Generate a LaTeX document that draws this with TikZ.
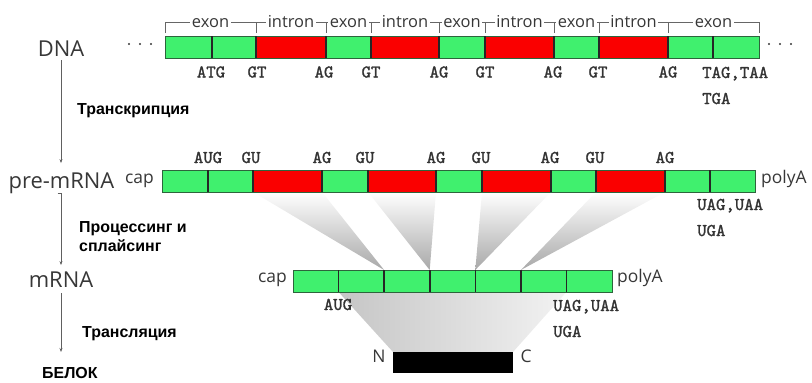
\documentclass[tikz,border=0pt]{standalone}
\usepackage{fontspec}
\setmainfont{Open Sans}
\newfontfamily\rufont{Liberation Sans}
\newfontfamily\codefont{lmmono10-regular.otf}[FakeBold=1.4]
\usetikzlibrary{arrows.meta,backgrounds}
\definecolor{ggreen}{RGB}{64,240,110}
\definecolor{rred}{RGB}{250,0,0}
\definecolor{txt}{RGB}{55,55,55}
\definecolor{edgec}{RGB}{45,100,60}
\begin{document}
\begin{tikzpicture}[x=1bp,y=-1bp,
  seg/.style={minimum height=22bp, inner sep=0pt, outer sep=0pt},
  divider/.style={draw=black!85, line width=1.6bp},
  outline/.style={draw=edgec, line width=0.8bp},
  big/.style={font=\fontsize{22}{26}\selectfont, text=txt, inner sep=0pt, anchor=base},
  endlab/.style={font=\fontsize{17.5}{20}\selectfont, text=txt, inner sep=0pt},
  code/.style={font=\codefont\fontsize{18}{20}\selectfont, text=black!80, inner sep=0pt, anchor=base},
  codeL/.style={code, anchor=base west},
  bracklab/.style={font=\fontsize{16.5}{18}\selectfont, text=txt, fill=white, inner sep=1.5bp, anchor=base},
  brack/.style={draw=gray!80!black, line width=0.8bp},
  ru/.style={font=\rufont\bfseries\fontsize{16}{19}\selectfont, inner sep=0pt, anchor=base west},
  flow/.style={draw=gray!75!black, line width=0.7bp, -{Stealth[length=4bp,width=3bp]}},
  wedge/.style={top color=white, bottom color=gray!68, draw=none},
]
\useasboundingbox (0,0) rectangle (812,382);

% ---------- DNA bar ----------
\foreach \a/\b/\c [count=\i] in {165/212/ggreen, 212/256/ggreen, 256/326/rred, 326/371/ggreen, 371/439/rred, 439/485/ggreen, 485/554/rred, 554/599/ggreen, 599/668/rred, 668/713/ggreen, 713/759/ggreen}
  \node[seg, fill=\c, minimum width={(\b-\a)*1bp}] (d\i) at ({(\a+\b)/2},47) {};
\draw[outline] (d1.north west) rectangle (d11.south east);
\foreach \i in {1,...,10} \draw[divider] (d\i.north east) -- (d\i.south east);

% ---------- pre-mRNA bar ----------
\foreach \a/\b/\c [count=\i] in {162/208/ggreen, 208/253/ggreen, 253/322/rred, 322/368/ggreen, 368/436/rred, 436/482/ggreen, 482/551/rred, 551/596/ggreen, 596/665/rred, 665/710/ggreen, 710/755/ggreen}
  \node[seg, fill=\c, minimum width={(\b-\a)*1bp}] (p\i) at ({(\a+\b)/2},181) {};
\draw[outline] (p1.north west) rectangle (p11.south east);
\foreach \i in {1,...,10} \draw[divider] (p\i.north east) -- (p\i.south east);

% ---------- mRNA bar ----------
\foreach \a/\b [count=\i] in {293/338.6, 338.6/384.1, 384.1/429.7, 429.7/475.3, 475.3/520.9, 520.9/566.4, 566.4/612}
  \node[seg, fill=ggreen, minimum width={(\b-\a)*1bp}] (m\i) at ({(\a+\b)/2},281) {};
\draw[outline] (m1.north west) rectangle (m7.south east);
\foreach \i in {1,...,6} \draw[divider] (m\i.north east) -- (m\i.south east);

% ---------- protein ----------
\node[fill=black, minimum width=120bp, minimum height=21bp, inner sep=0pt, outer sep=0pt] (prot) at (453,362.5) {};

% ---------- splicing wedges and translation funnel ----------
\begin{scope}[on background layer]
  \shade[wedge] (p3.south west) -- (p3.south east) -- (m2.north east) -- cycle;
  \shade[wedge] (p5.south west) -- (p5.south east) -- (m3.north east) -- cycle;
  \shade[wedge] (p7.south west) -- (p7.south east) -- (m4.north east) -- cycle;
  \shade[wedge] (p9.south west) -- (p9.south east) -- (m5.north east) -- cycle;
  \shade[left color=gray!45, right color=gray!10, draw=none]
    (m1.south east) -- (m6.south east) -- (prot.north east) -- (prot.north west) -- cycle;
\end{scope}

% ---------- exon / intron brackets ----------
\draw[brack] (165,33) -- (165,22) -- (759,22) -- (759,33);
\foreach \x in {256,326,371,439,485,554,599,668} \draw[brack] (\x,22) -- (\x,33);
\foreach \x/\t [count=\i] in {210.5/exon, 291/intron, 348.5/exon, 405/intron, 462/exon, 519.5/intron, 576.5/exon, 633.5/intron, 713.5/exon}
  \node[bracklab] (bl\i) at (\x,27) {\t};

% ---------- dots ----------
\foreach \x in {129,140,151,769,780,791} \fill[txt] (\x,44) circle (1.2bp);

% ---------- codon labels ----------
\foreach \x/\t [count=\i] in {211/ATG, 257/GT, 324/AG, 371/GT, 439/AG, 485/GT, 553/AG, 598/GT, 668/AG}
  \node[code] (dc\i) at (\x,77.5) {\t};
\node[codeL] (dstop1) at (702,78) {TAG,TAA};
\node[codeL] (dstop2) at (702,104) {TGA};

\foreach \x/\t [count=\i] in {208/AUG, 251/GU, 322/AG, 365/GU, 436/AG, 481/GU, 550/AG, 595/GU, 665/AG}
  \node[code] (pc\i) at (\x,163) {\t};
\node[codeL] (pstop1) at (697,210) {UAG,UAA};
\node[codeL] (pstop2) at (697,236) {UGA};

\node[code] (mstart) at (338,310) {AUG};
\node[codeL] (mstop1) at (553,311) {UAG,UAA};
\node[codeL] (mstop2) at (553,337) {UGA};

% ---------- ends ----------
\node[endlab, anchor=base east] (pcap) at (154,183) {cap};
\node[endlab, anchor=base west] (ppoly) at (761,183) {polyA};
\node[endlab, anchor=base east] (mcap) at (287,282) {cap};
\node[endlab, anchor=base west] (mpoly) at (617,282) {polyA};
\node[endlab, anchor=base] (nterm) at (379,362) {N};
\node[endlab, anchor=base] (cterm) at (526,362) {C};

% ---------- left flow ----------
\node[big] (dna) at (61,56) {DNA};
\node[big] (pre) at (61.5,188) {pre-mRNA};
\node[big] (mrna) at (61,287) {mRNA};
\node[ru] (belok) at (42,378) {БЕЛОК};
\coordinate (belokarrow) at (61,352);

\draw[flow, shorten <=4bp, shorten >=9bp] (dna.south) -- (dna.south |- pre.north);
\draw[flow, shorten <=4bp, shorten >=6bp] (pre.south) -- (pre.south -| mrna.north) -- (mrna.north);
\draw[flow, shorten <=6bp] (mrna.south) -- (belokarrow);

\node[ru] (tr1) at (77,114) {Транскрипция};
\node[ru] (tr2) at (79,232.7) {Процессинг и};
\node[ru] (tr2b) at (79,251.7) {сплайсинг};
\node[ru] (tr3) at (82,337) {Трансляция};
\end{tikzpicture}
\end{document}
